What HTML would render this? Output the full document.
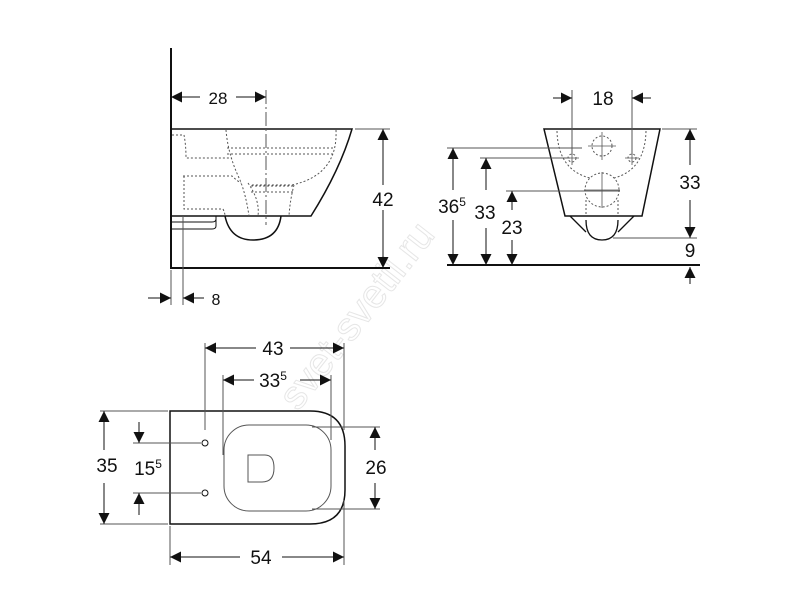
<!DOCTYPE html>
<html><head><style>body{margin:0;background:#fff}svg{display:block}</style></head><body>
<svg width="800" height="600" viewBox="0 0 800 600" xmlns="http://www.w3.org/2000/svg" font-family="Liberation Sans, sans-serif">
<defs>
<marker id="a" viewBox="0 0 10 10" refX="10" refY="5" markerWidth="14" markerHeight="11" markerUnits="userSpaceOnUse" orient="auto"><path d="M0,0L10,5L0,10z" fill="#111"/></marker>
</defs>
<text x="0" y="0" transform="translate(298,412) rotate(-52)" font-size="40" fill="none" stroke="#e6e6e6" stroke-width="1">svet-svetil.ru</text>
<g stroke="#111" fill="none" stroke-width="1">
<path d="M171,48V268H390" stroke-width="2"/>
<path d="M171,129H352Q340,170 311,216H171" stroke-width="1.5"/>
<path d="M171,222H212Q216,222 216,219V216M171,229H212Q216,229 216,226V216" stroke-width="1"/>
<path d="M225,216Q230,240 253,240Q278,240 281,216" stroke-width="1.5"/>
<g stroke-dasharray="2,2" stroke="#555">
<path d="M172,135H184Q186,145 186,158H232M183,176H232Q236,180 241,183M184,176V209H223Q225,213 225,216"/>
<path d="M226,130Q228,155 240,180Q246,195 249,216"/>
<path d="M336,130Q338,175 292,185H250M227,148H333M227,154H333M248,183Q260,200 258,216"/>
<path d="M251,186H294M251,192H294M294,185Q290,200 289,216"/>
</g>
<path d="M266,90V225" stroke="#555" stroke-dasharray="14,3,2,3"/>
<line x1="200" y1="97" x2="171" y2="97" marker-end="url(#a)"/>
<line x1="236" y1="97" x2="266" y2="97" marker-end="url(#a)"/>
<line x1="355" y1="129" x2="390" y2="129" stroke="#555"/>
<line x1="383" y1="185" x2="383" y2="129" marker-end="url(#a)"/>
<line x1="383" y1="210" x2="383" y2="268" marker-end="url(#a)"/>
<line x1="183" y1="216" x2="183" y2="305" stroke="#555"/>
<line x1="171" y1="270" x2="171" y2="305" stroke="#555"/>
<line x1="148" y1="298" x2="171" y2="298" marker-end="url(#a)"/>
<line x1="204" y1="298" x2="183" y2="298" marker-end="url(#a)"/>
<path d="M544,129H660L642,216H565Z" stroke-width="1.5"/>
<path d="M447,265H700" stroke-width="2"/>
<path d="M570,216Q578,224 586,232M634,216Q626,224 618,232M586,220Q586,240 602,240Q618,240 618,220" stroke-width="1.3"/>
<g stroke-dasharray="2,2" stroke="#555">
<circle cx="602" cy="146" r="10"/><circle cx="602" cy="190" r="17"/>
<circle cx="572" cy="158" r="4"/><circle cx="632" cy="158" r="4"/>
<path d="M557,131Q558,170 590,178M646,131Q645,170 614,178M586,200V216M618,200V216"/>
</g>
<path d="M602,132V160M588,146H616M602,172V208M584,190H620M565,158H579M572,151V165M625,158H639M632,151V165" stroke="#555" stroke-width="0.8"/>
<line x1="572" y1="90" x2="572" y2="155" stroke="#555"/>
<line x1="632" y1="90" x2="632" y2="155" stroke="#555"/>
<line x1="553" y1="98" x2="572" y2="98" marker-end="url(#a)"/>
<line x1="651" y1="98" x2="632" y2="98" marker-end="url(#a)"/>
<line x1="662" y1="129" x2="697" y2="129" stroke="#555"/>
<line x1="613" y1="238" x2="697" y2="238" stroke="#555"/>
<line x1="690" y1="165" x2="690" y2="129" marker-end="url(#a)"/>
<line x1="690" y1="200" x2="690" y2="238" marker-end="url(#a)"/>
<line x1="690" y1="284" x2="690" y2="267" marker-end="url(#a)"/>
<line x1="447" y1="148" x2="582" y2="148" stroke="#555"/>
<line x1="480" y1="158" x2="570" y2="158" stroke="#555"/>
<line x1="506" y1="191" x2="620" y2="191" stroke="#555"/>
<line x1="453" y1="190" x2="453" y2="148" marker-end="url(#a)"/>
<line x1="453" y1="220" x2="453" y2="265" marker-end="url(#a)"/>
<line x1="486" y1="190" x2="486" y2="158" marker-end="url(#a)"/>
<line x1="486" y1="228" x2="486" y2="265" marker-end="url(#a)"/>
<line x1="512" y1="210" x2="512" y2="191" marker-end="url(#a)"/>
<line x1="512" y1="240" x2="512" y2="265" marker-end="url(#a)"/>
<path d="M170,411H310Q345,411 345,446V490Q345,524 310,524H170Z" stroke-width="1.5"/>
<rect x="224" y="425" width="107" height="86" rx="25" stroke="#555"/>
<path d="M248,455H265Q274,455 274,468Q274,482 262,482H248Z" stroke="#555"/>
<circle cx="205" cy="443" r="3"/><circle cx="205" cy="493" r="3"/>
<line x1="205" y1="343" x2="205" y2="430" stroke="#555"/>
<line x1="344" y1="343" x2="344" y2="430" stroke="#555"/>
<line x1="256" y1="348" x2="205" y2="348" marker-end="url(#a)"/>
<line x1="290" y1="348" x2="344" y2="348" marker-end="url(#a)"/>
<line x1="223" y1="375" x2="223" y2="455" stroke="#555"/>
<line x1="331" y1="375" x2="331" y2="440" stroke="#555"/>
<line x1="254" y1="380" x2="223" y2="380" marker-end="url(#a)"/>
<line x1="300" y1="380" x2="331" y2="380" marker-end="url(#a)"/>
<line x1="100" y1="411" x2="168" y2="411" stroke="#555"/>
<line x1="100" y1="524" x2="168" y2="524" stroke="#555"/>
<line x1="104" y1="450" x2="104" y2="411" marker-end="url(#a)"/>
<line x1="104" y1="483" x2="104" y2="524" marker-end="url(#a)"/>
<line x1="133" y1="443" x2="201" y2="443" stroke="#555"/>
<line x1="133" y1="493" x2="201" y2="493" stroke="#555"/>
<line x1="139" y1="422" x2="139" y2="443" marker-end="url(#a)"/>
<line x1="139" y1="515" x2="139" y2="493" marker-end="url(#a)"/>
<line x1="312" y1="427" x2="380" y2="427" stroke="#555"/>
<line x1="312" y1="509" x2="380" y2="509" stroke="#555"/>
<line x1="375" y1="450" x2="375" y2="427" marker-end="url(#a)"/>
<line x1="375" y1="483" x2="375" y2="509" marker-end="url(#a)"/>
<line x1="170" y1="526" x2="170" y2="565" stroke="#555"/>
<line x1="344" y1="500" x2="344" y2="565" stroke="#555"/>
<line x1="240" y1="557" x2="170" y2="557" marker-end="url(#a)"/>
<line x1="282" y1="557" x2="344" y2="557" marker-end="url(#a)"/>
</g>
<g fill="#111" font-size="19" text-anchor="middle">
<text x="218" y="104" font-size="17">28</text>
<text x="383" y="206">42</text>
<text x="216" y="305" font-size="16">8</text>
<text x="603" y="105">18</text>
<text x="690" y="189">33</text>
<text x="690" y="257">9</text>
<text x="452" y="213">36<tspan font-size="12" dy="-7">5</tspan></text>
<text x="485" y="219">33</text>
<text x="512" y="234">23</text>
<text x="273" y="355">43</text>
<text x="273" y="387">33<tspan font-size="12" dy="-7">5</tspan></text>
<text x="107" y="472">35</text>
<text x="148" y="475">15<tspan font-size="12" dy="-7">5</tspan></text>
<text x="376" y="474">26</text>
<text x="261" y="564">54</text>
</g>
</svg>
</body></html>
